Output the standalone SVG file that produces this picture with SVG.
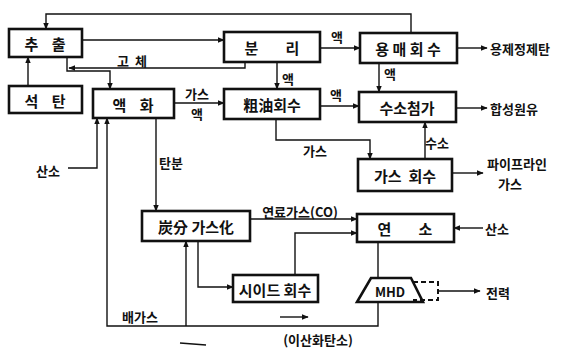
<svg xmlns="http://www.w3.org/2000/svg" width="568" height="353" viewBox="0 0 568 353">
<defs>
<marker id="ar" viewBox="0 0 10 10" refX="9" refY="5" markerWidth="7" markerHeight="7" orient="auto" markerUnits="userSpaceOnUse">
<path d="M0,1 L10,5 L0,9 z" fill="#111"/>
</marker>
</defs>
<style>
.box{fill:#fff;stroke:#111;stroke-width:2.6}
.c{fill:none;stroke:#111;stroke-width:1.4}
.t{font-family:"Noto Sans CJK KR","Noto Sans CJK SC",sans-serif;font-size:15px;font-weight:bold;fill:#111;text-anchor:middle;dominant-baseline:central;white-space:pre}
.s{font-family:"Noto Sans CJK KR","Noto Sans CJK SC",sans-serif;font-size:13px;font-weight:bold;fill:#111;text-anchor:middle;dominant-baseline:central;white-space:pre}
</style>
<rect width="568" height="353" fill="#fff"/>
<g id="connectors">
<polyline class="c" points="411,33 411,14 46,14 46,29" marker-end="url(#ar)"/>
<line class="c" x1="82" y1="40" x2="224" y2="40" marker-end="url(#ar)"/>
<polyline class="c" points="245,62 245,68 69,68" marker-end="url(#ar)"/>
<polyline class="c" points="67,57 67,71 110,71 110,89" marker-end="url(#ar)"/>
<line class="c" x1="28" y1="86" x2="28" y2="57" marker-end="url(#ar)"/>
<line class="c" x1="320" y1="48" x2="360" y2="48" marker-end="url(#ar)"/>
<line class="c" x1="277" y1="62" x2="277" y2="89" marker-end="url(#ar)"/>
<line class="c" x1="457" y1="48" x2="487" y2="48" marker-end="url(#ar)"/>
<line class="c" x1="379" y1="63" x2="379" y2="92" marker-end="url(#ar)"/>
<line class="c" x1="320" y1="106" x2="359" y2="106" marker-end="url(#ar)"/>
<line class="c" x1="456" y1="108" x2="487" y2="108" marker-end="url(#ar)"/>
<line class="c" x1="174" y1="103" x2="224" y2="103" marker-end="url(#ar)"/>
<polyline class="c" points="276,119 276,140 370,140 370,159" marker-end="url(#ar)"/>
<line class="c" x1="425" y1="159" x2="425" y2="122" marker-end="url(#ar)"/>
<line class="c" x1="452" y1="173" x2="483" y2="173" marker-end="url(#ar)"/>
<polyline class="c" points="68,168 97,168 97,118" marker-end="url(#ar)"/>
<polyline class="c" points="378,302 378,326 107,326 107,118" marker-end="url(#ar)"/>
<line class="c" x1="186" y1="326" x2="186" y2="241" marker-end="url(#ar)"/>
<polyline class="c" points="198,241 198,287 233,287" marker-end="url(#ar)"/>
<line class="c" x1="156" y1="118" x2="156" y2="211" marker-end="url(#ar)"/>
<line class="c" x1="250" y1="219" x2="357" y2="219" marker-end="url(#ar)"/>
<polyline class="c" points="295,275 295,233 357,233" marker-end="url(#ar)"/>
<line class="c" x1="483" y1="228" x2="454" y2="228" marker-end="url(#ar)"/>
<line class="c" x1="378" y1="242" x2="378" y2="278"/>
<line class="c" x1="438" y1="291" x2="480" y2="291" marker-end="url(#ar)"/>
<line class="c" x1="280" y1="317" x2="308" y2="317" marker-end="url(#ar)"/>
<line class="c" x1="180" y1="343" x2="206" y2="345"/>
</g>
<g id="n-extract"><rect class="box" x="9" y="29" width="73" height="28"/><text class="t" x="45" y="43">추    출</text></g>
<g id="n-coal"><rect class="box" x="9" y="86" width="73" height="27"/><text class="t" x="45" y="100">석    탄</text></g>
<g id="n-liquefy"><rect class="box" x="93" y="89" width="81" height="29"/><text class="t" x="133" y="104">액    화</text></g>
<g id="n-separate"><rect class="box" x="224" y="32" width="96" height="30"/><text class="t" x="272" y="47">분        리</text></g>
<g id="n-solvent"><rect class="box" x="360" y="33" width="97" height="30"/><text class="t" x="408" y="48">용 매 회 수</text></g>
<g id="n-crude"><rect class="box" x="224" y="89" width="96" height="30"/><text class="t" x="272" y="104">粗油회수</text></g>
<g id="n-hydro"><rect class="box" x="359" y="92" width="97" height="30"/><text class="t" x="407" y="107">수소첨가</text></g>
<g id="n-gasrec"><rect class="box" x="358" y="159" width="94" height="32"/><text class="t" x="405" y="175">가스  회수</text></g>
<g id="n-chargas"><rect class="box" x="142" y="211" width="108" height="30"/><text class="t" x="196" y="226">炭分 가스化</text></g>
<g id="n-combust"><rect class="box" x="357" y="214" width="97" height="28"/><text class="t" x="405" y="228">연        소</text></g>
<g id="n-seed"><rect class="box" x="233" y="275" width="85" height="27"/><text class="t" x="275" y="289">시이드 회수</text></g>
<g id="n-mhd"><polygon class="box" points="371,278 411,278 423,302 357,302"/><text class="s" x="390" y="291" font-weight="normal">MHD</text>
<polyline points="413,282 438,282 438,300 413,300" fill="none" stroke="#111" stroke-width="2" stroke-dasharray="5,3"/></g>
<g id="labels">
<text class="s" x="132" y="60">고  체</text>
<text class="s" x="337" y="36">액</text>
<text class="s" x="288" y="78">액</text>
<text class="s" x="390" y="73">액</text>
<text class="s" x="336" y="94">액</text>
<text class="s" x="197" y="93">가스</text>
<text class="s" x="197" y="113">액</text>
<text class="s" x="315" y="150">가스</text>
<text class="s" x="437" y="142">수소</text>
<text class="s" x="171" y="162">탄분</text>
<text class="s" x="48" y="170">산소</text>
<text class="s" x="497" y="228">산소</text>
<text class="s" x="300" y="211">연료가스(CO)</text>
<text class="s" x="140" y="316">배가스</text>
<text class="s" x="318" y="339">(이산화탄소)</text>
<text class="s" x="520" y="48">용제정제탄</text>
<text class="s" x="514" y="108">합성원유</text>
<text class="s" x="517" y="163">파이프라인</text>
<text class="s" x="510" y="183">가스</text>
<text class="s" x="498" y="292">전력</text>
</g>
</svg>
